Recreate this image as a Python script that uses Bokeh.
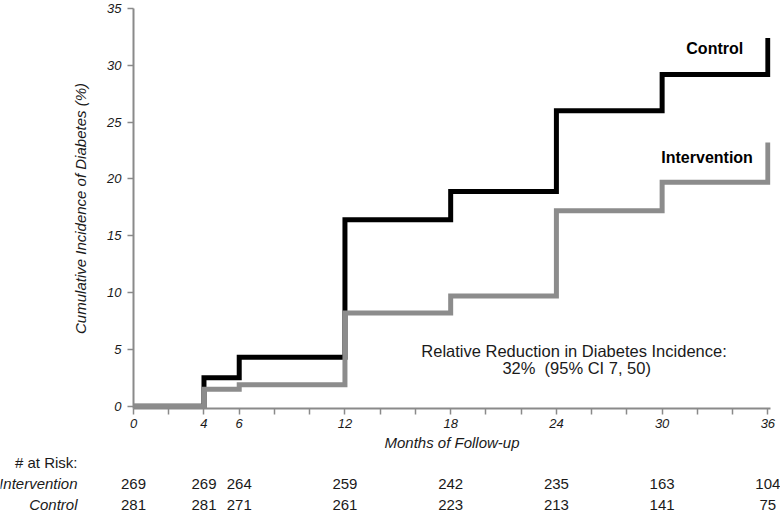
from bokeh.plotting import figure
from bokeh.layouts import column
from bokeh.models import FixedTicker, Range1d, Label
from bokeh.embed import file_html
from bokeh.resources import INLINE
from bokeh.core.properties import value

# ---- data ----
months = [0, 4, 6, 12, 18, 24, 30, 36]
control = [0, 2.5, 4.3, 16.4, 18.9, 26.0, 29.2, 32.4]
intervention = [0, 1.5, 1.9, 8.2, 9.7, 17.2, 19.7, 23.2]
risk_months = [0, 4, 6, 12, 18, 24, 30, 36]
risk_intervention = ["269", "269", "264", "259", "242", "235", "163", "104"]
risk_control = ["281", "281", "271", "261", "223", "213", "141", "75"]
row_titles = ["# at Risk:", "Intervention", "Control"]
x_ticks = list(range(0, 37, 2))
x_labeled = [0, 4, 6, 12, 18, 24, 30, 36]
y_ticks = [0, 5, 10, 15, 20, 25, 30, 35]

FONT = "Liberation Sans"
AXIS_GREY = "#8a8a8a"
LINE_GREY = "#8c8c8c"
TEXT = "#1a1a1a"

W = 780
LEFT, RIGHT = 133, 10
X_END = 36.15
MAIN_H, TABLE_H = 454, 58

p = figure(width=W, height=MAIN_H, output_backend="svg", toolbar_location=None,
           x_range=Range1d(0, X_END), y_range=Range1d(-0.2, 35),
           min_border_left=LEFT, min_border_right=RIGHT, min_border_top=8,
           min_border_bottom=46)
p.frame_align = False
p.outline_line_color = None
p.xgrid.visible = False
p.ygrid.visible = False

# axes
p.xaxis.ticker = FixedTicker(ticks=x_ticks)
p.xaxis.major_label_overrides = {t: ("" if t not in x_labeled else str(t)) for t in x_ticks}
p.yaxis.ticker = FixedTicker(ticks=y_ticks)
for ax in (p.xaxis, p.yaxis):
    ax.axis_line_color = AXIS_GREY
    ax.axis_line_width = 2
    ax.major_tick_line_color = AXIS_GREY
    ax.major_tick_line_width = 1.5
    ax.major_tick_out = 6
    ax.major_tick_in = 0
    ax.minor_tick_line_color = None
    ax.major_label_text_font = FONT
    ax.major_label_text_font_style = "italic"
    ax.major_label_text_font_size = "13px"
    ax.major_label_text_color = TEXT
    ax.axis_label_text_font = FONT
    ax.axis_label_text_font_style = "italic"
    ax.axis_label_text_font_size = "15px"
    ax.axis_label_text_color = TEXT
p.xaxis.axis_label = "Months of Follow-up"
p.xaxis.major_label_standoff = 4
p.xaxis.axis_label_standoff = 3
p.yaxis.axis_label = "Cumulative Incidence of Diabetes (%)"
p.yaxis.major_label_standoff = 6
p.yaxis.axis_label_standoff = 15

# step curves
p.step(months, control, mode="after", line_color="black", line_width=5, line_join="miter")
p.step(months, intervention, mode="after", line_color=LINE_GREY, line_width=5, line_join="miter")

# curve labels
p.text(x=[34.6], y=[31.5], text=["Control"], text_align="right", text_baseline="middle",
       text_font=value(FONT), text_font_style="bold", text_font_size="16px", text_color="black")
p.text(x=[35.15], y=[21.85], text=["Intervention"], text_align="right", text_baseline="middle",
       text_font=value(FONT), text_font_style="bold", text_font_size="16px", text_color="black")

# annotation
p.text(x=[25.0, 25.15], y=[4.85, 3.4],
       text=["Relative Reduction in Diabetes Incidence:", "32%\u00a0\u00a0(95% CI 7, 50)"],
       text_align="center", text_baseline="middle",
       text_font=value(FONT), text_font_size="16.5px", text_color=TEXT)

# ---- number-at-risk table: full-width frame, x scale aligned with the main plot ----
px_per_month = (W - LEFT - RIGHT) / X_END
t = figure(width=W, height=TABLE_H, output_backend="svg", toolbar_location=None,
           x_range=Range1d(-LEFT / px_per_month, X_END + RIGHT / px_per_month),
           y_range=Range1d(0, TABLE_H),
           min_border_left=0, min_border_right=0, min_border_top=0, min_border_bottom=0)
t.frame_align = False
t.outline_line_color = None
t.axis.visible = False
t.xgrid.visible = False
t.ygrid.visible = False

row_y = [50, 29, 8]  # vertical slot of each table row (pixels from table bottom)
styles = ["normal", "italic", "italic"]
for title, yy, st in zip(row_titles, row_y, styles):
    t.add_layout(Label(x=77, y=yy, x_units="screen", y_units="data", text=title,
                       text_align="right", text_baseline="middle", text_font=FONT,
                       text_font_style=st, text_font_size="15px", text_color=TEXT))

t.text(x=risk_months, y=[row_y[1]] * len(risk_months), text=risk_intervention,
       text_align="center", text_baseline="middle",
       text_font=value(FONT), text_font_size="15px", text_color=TEXT)
t.text(x=risk_months, y=[row_y[2]] * len(risk_months), text=risk_control,
       text_align="center", text_baseline="middle",
       text_font=value(FONT), text_font_size="15px", text_color=TEXT)

layout = column(p, t, spacing=0)
open("out.html", "w").write(file_html(layout, INLINE))
